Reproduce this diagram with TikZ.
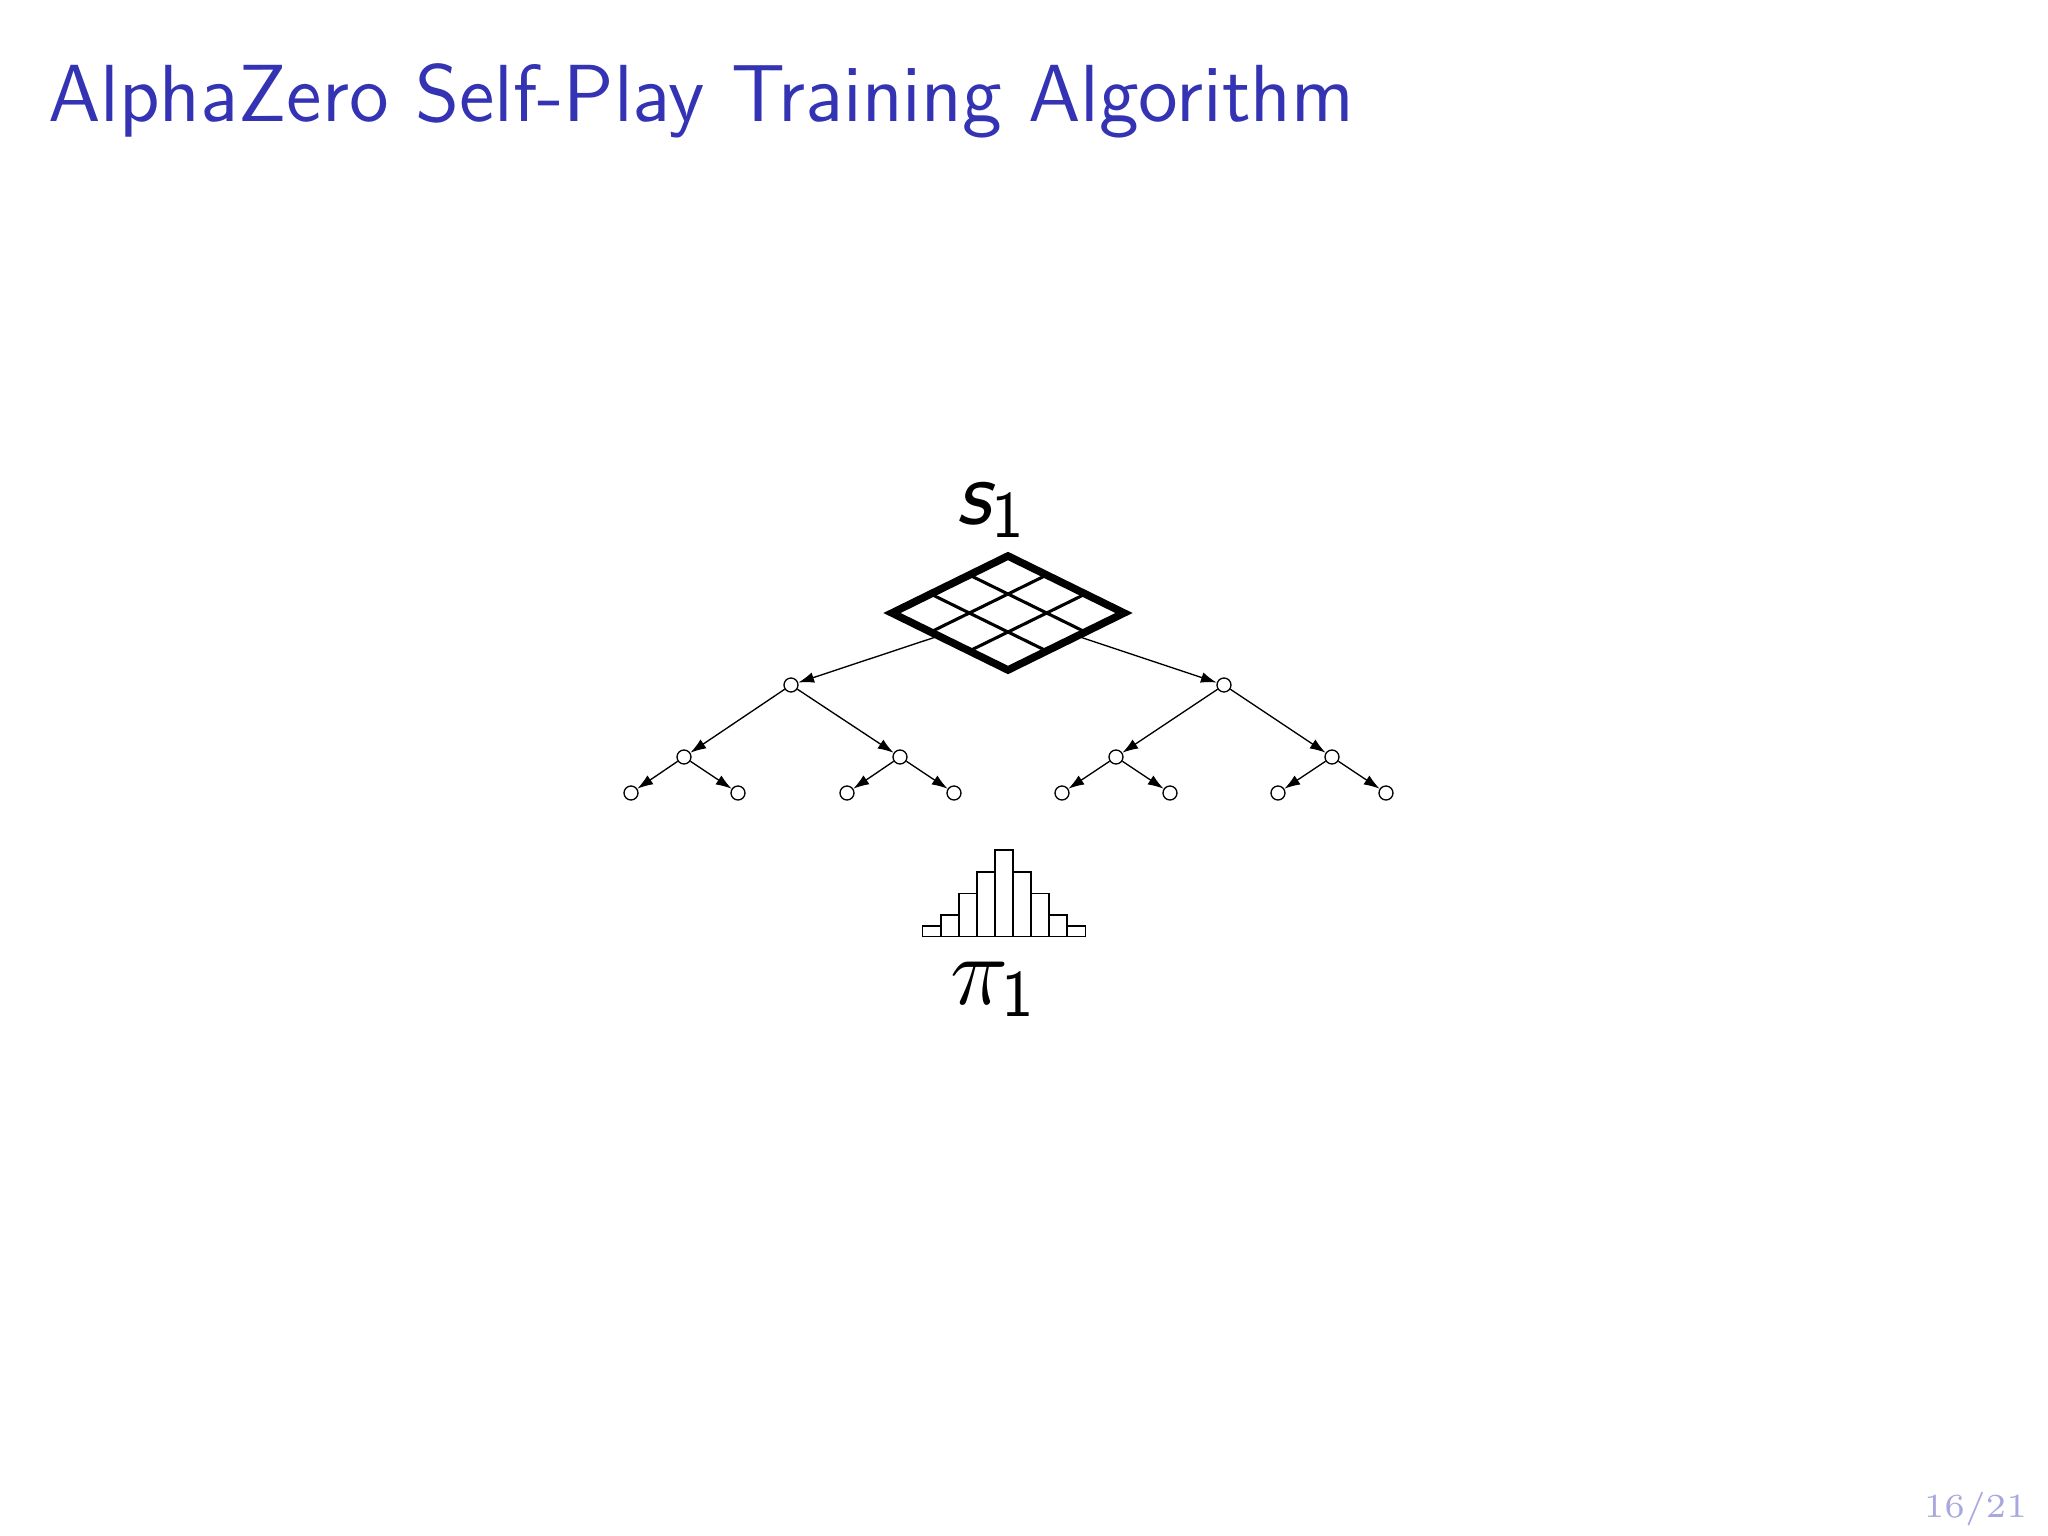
\documentclass[tikz,border=0pt]{standalone}
\usepackage{fix-cm}
\usepackage{fontspec}
\usetikzlibrary{arrows.meta}
\definecolor{titleblue}{RGB}{51,51,179}
\definecolor{pageblue}{RGB}{168,168,222}
\newlength\px
\setlength\px{0.0625mm}
\tikzset{
  treenode/.style={circle,draw,line width=0.24pt,minimum size=0.875mm,inner sep=0pt,fill=white},
  treearrow/.style={line width=0.24pt,-{Latex[length=2.8pt,width=1.9pt]}},
  histbar/.style={draw,line width=0.28pt},
  boardedge/.style={line width=1.35pt,line join=miter},
  boardgrid/.style={line width=0.55pt},
}
\begin{document}
\begin{tikzpicture}[x=0.0625mm,y=-0.0625mm]
\useasboundingbox[fill=white] (0,0) rectangle (2048,1536);
% title and page number
\node[anchor=base west,inner sep=0pt,text=titleblue,font=\fontsize{14.4}{17}\selectfont\sffamily] (title) at (47,121) {AlphaZero Self-Play Training Algorithm};
\node[anchor=base east,inner sep=0pt,text=pageblue,font=\fontsize{6}{7}\selectfont] (page) at (2028,1517) {16/21};
% state label
\node[anchor=base west,inner sep=0pt] (slabel) at (955,524) {\makebox[35\px][l]{\fontsize{17}{19}\selectfont\sffamily\itshape s}\raisebox{-13\px}{\fontsize{11.8}{14}\selectfont\sffamily 1}};
% tree
\coordinate (board) at (1008,613);
\node[treenode] (r1) at (791,685) {};
\node[treenode] (r2) at (1224,685) {};
\node[treenode] (m1) at (684,757) {};
\node[treenode] (m2) at (900,757) {};
\node[treenode] (m3) at (1116,757) {};
\node[treenode] (m4) at (1332,757) {};
\node[treenode] (l1) at (631,793) {};
\node[treenode] (l2) at (738,793) {};
\node[treenode] (l3) at (847,793) {};
\node[treenode] (l4) at (954,793) {};
\node[treenode] (l5) at (1062,793) {};
\node[treenode] (l6) at (1170,793) {};
\node[treenode] (l7) at (1278,793) {};
\node[treenode] (l8) at (1386,793) {};
\draw[treearrow] (board) -- (r1);
\draw[treearrow] (board) -- (r2);
\draw[treearrow] (r1) -- (m1);
\draw[treearrow] (r1) -- (m2);
\draw[treearrow] (r2) -- (m3);
\draw[treearrow] (r2) -- (m4);
\draw[treearrow] (m1) -- (l1);
\draw[treearrow] (m1) -- (l2);
\draw[treearrow] (m2) -- (l3);
\draw[treearrow] (m2) -- (l4);
\draw[treearrow] (m3) -- (l5);
\draw[treearrow] (m3) -- (l6);
\draw[treearrow] (m4) -- (l7);
\draw[treearrow] (m4) -- (l8);
% board
\coordinate (BL) at (892,613);
\coordinate (BT) at (1008,556);
\coordinate (BR) at (1124,613);
\coordinate (BB) at (1008,670);
\fill[white] (BL) -- (BT) -- (BR) -- (BB) -- cycle;
\draw[boardgrid] (930.67,594) -- (1046.67,651);
\draw[boardgrid] (969.33,575) -- (1085.33,632);
\draw[boardgrid] (930.67,632) -- (1046.67,575);
\draw[boardgrid] (969.33,651) -- (1085.33,594);
\draw[boardedge] (BL) -- (BT) -- (BR) -- (BB) -- cycle;
% histogram
\foreach \h [count=\i from 0] in {1,2,4,6,8,6,4,2,1}{
  \draw[histbar] (922.7+18.07*\i,936.7) rectangle (922.7+18.07*\i+18.07,936.7-10.83*\h);
}
% policy label
\node[anchor=base west,inner sep=0pt] (pilabel) at (949,1004) {\makebox[51\px][l]{\fontsize{17.5}{19}\selectfont$\pi$}\raisebox{-12\px}{\fontsize{11.8}{14}\selectfont\sffamily 1}};
\end{tikzpicture}
\end{document}
